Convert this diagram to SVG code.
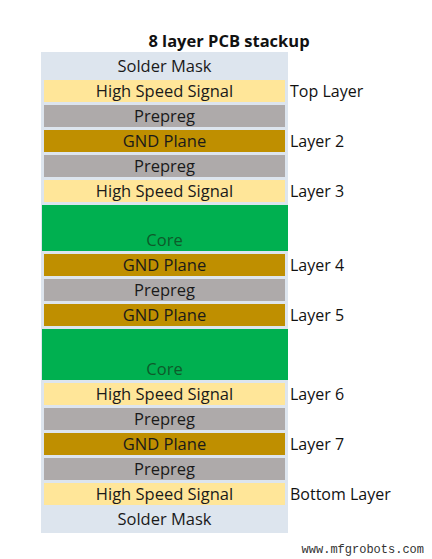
<svg xmlns="http://www.w3.org/2000/svg" width="432" height="559" viewBox="0 0 432 559">
<style>
.t{font-family:"Open Sans","Noto Sans",sans-serif;font-size:16.5px;text-anchor:middle;fill:#1a1a1a}
.l{font-family:"Open Sans","Noto Sans",sans-serif;font-size:16px;fill:#111}
.hs{fill:#FFE699}.pp{fill:#AEAAAA}.gnd{fill:#BF8F00}.core{fill:#00B050}
.ct{fill:#0E5A2A}
</style>
<rect width="432" height="559" fill="#fff"/>
<text x="229" y="47" style="font-family:'Open Sans','Noto Sans',sans-serif;font-size:16.5px;font-weight:bold;text-anchor:middle;fill:#111">8 layer PCB stackup</text>
<rect x="41" y="52" width="247" height="481" fill="#DDE5EE"/>
<g id="solder-top"><text class="t" x="164.5" y="72">Solder Mask</text></g>
<g id="top-layer"><rect class="hs" x="44" y="80" width="241" height="22"/><text class="t" x="164.5" y="97">High Speed Signal</text><text class="l" x="290" y="97">Top Layer</text></g>
<g id="prepreg1"><rect class="pp" x="44" y="105" width="241" height="22"/><text class="t" x="164.5" y="122">Prepreg</text></g>
<g id="layer2"><rect class="gnd" x="44" y="130" width="241" height="22"/><text class="t" x="164.5" y="147">GND Plane</text><text class="l" x="290" y="147">Layer 2</text></g>
<g id="prepreg2"><rect class="pp" x="44" y="155" width="241" height="22"/><text class="t" x="164.5" y="172">Prepreg</text></g>
<g id="layer3"><rect class="hs" x="44" y="180" width="241" height="22"/><text class="t" x="164.5" y="197">High Speed Signal</text><text class="l" x="290" y="197">Layer 3</text></g>
<g id="core1"><rect class="core" x="42" y="205" width="246" height="46"/><text class="t ct" x="164.5" y="246">Core</text></g>
<g id="layer4"><rect class="gnd" x="44" y="254" width="241" height="22"/><text class="t" x="164.5" y="271">GND Plane</text><text class="l" x="290" y="271">Layer 4</text></g>
<g id="prepreg3"><rect class="pp" x="44" y="279" width="241" height="22"/><text class="t" x="164.5" y="296">Prepreg</text></g>
<g id="layer5"><rect class="gnd" x="44" y="304" width="241" height="22"/><text class="t" x="164.5" y="321">GND Plane</text><text class="l" x="290" y="321">Layer 5</text></g>
<g id="core2"><rect class="core" x="42" y="329" width="246" height="51"/><text class="t ct" x="164.5" y="375">Core</text></g>
<g id="layer6"><rect class="hs" x="44" y="383" width="241" height="22"/><text class="t" x="164.5" y="400">High Speed Signal</text><text class="l" x="290" y="400">Layer 6</text></g>
<g id="prepreg4"><rect class="pp" x="44" y="408" width="241" height="22"/><text class="t" x="164.5" y="425">Prepreg</text></g>
<g id="layer7"><rect class="gnd" x="44" y="433" width="241" height="22"/><text class="t" x="164.5" y="450">GND Plane</text><text class="l" x="290" y="450">Layer 7</text></g>
<g id="prepreg5"><rect class="pp" x="44" y="458" width="241" height="22"/><text class="t" x="164.5" y="475">Prepreg</text></g>
<g id="bottom-layer"><rect class="hs" x="44" y="483" width="241" height="22"/><text class="t" x="164.5" y="500">High Speed Signal</text><text class="l" x="290" y="500">Bottom Layer</text></g>
<g id="solder-bottom"><text class="t" x="164.5" y="525">Solder Mask</text></g>
<text x="424" y="553" style="font-family:'Liberation Mono',monospace;font-size:12px;text-anchor:end;fill:#333">www.mfgrobots.com</text>
</svg>
